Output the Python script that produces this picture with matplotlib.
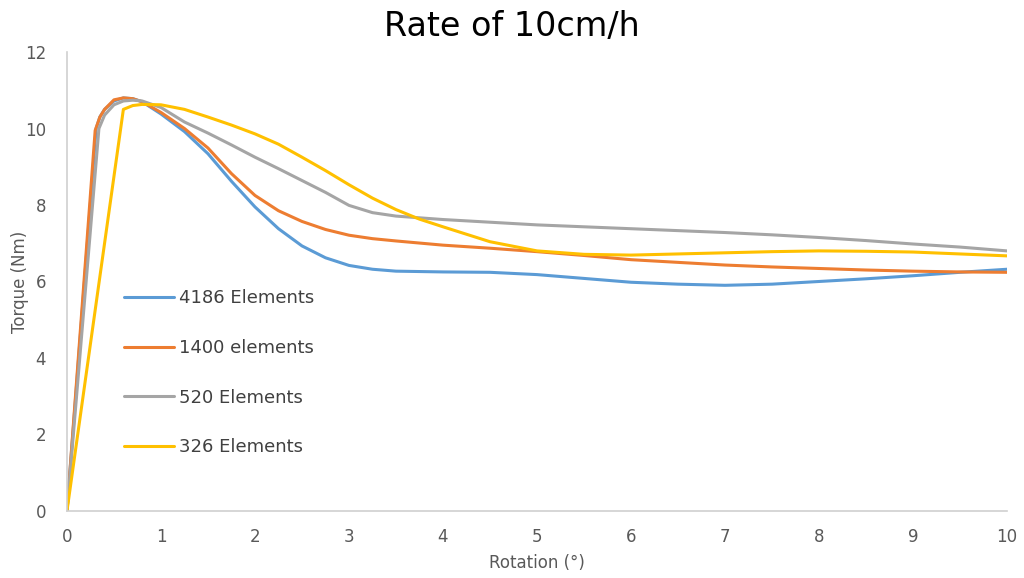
import matplotlib.pyplot as plt

plt.rcParams['font.family'] = ['DejaVu Sans']

# torque vs rotation for each mesh density
rot_4186 = [0, 0.31, 0.35, 0.4, 0.5, 0.6, 0.7, 0.8, 1.0, 1.25, 1.5, 1.75, 2.0, 2.25, 2.5, 2.75,
            3.0, 3.25, 3.5, 4, 4.5, 5, 5.5, 6, 6.5, 7, 7.5, 8, 8.5, 9, 9.5, 10]
torque_4186 = [0, 10.0, 10.3, 10.5, 10.72, 10.8, 10.78, 10.7, 10.38, 9.92, 9.34, 8.62, 7.95,
               7.38, 6.93, 6.62, 6.42, 6.32, 6.27, 6.25, 6.24, 6.18, 6.08, 5.98, 5.93, 5.9,
               5.93, 6.0, 6.07, 6.15, 6.24, 6.32]

rot_1400 = [0, 0.3, 0.35, 0.4, 0.5, 0.6, 0.7, 0.8, 1.0, 1.25, 1.5, 1.75, 2.0, 2.25, 2.5, 2.75,
            3.0, 3.25, 3.5, 4, 4.5, 5, 5.5, 6, 6.5, 7, 7.5, 8, 8.5, 9, 9.5, 10]
torque_1400 = [0, 9.95, 10.3, 10.5, 10.75, 10.8, 10.78, 10.7, 10.42, 10.0, 9.49, 8.82, 8.25,
               7.85, 7.57, 7.36, 7.21, 7.12, 7.06, 6.95, 6.87, 6.78, 6.68, 6.57, 6.5, 6.43,
               6.38, 6.34, 6.3, 6.27, 6.25, 6.24]

rot_520 = [0, 0.34, 0.4, 0.5, 0.6, 0.7, 0.8, 1.0, 1.25, 1.5, 1.75, 2.0, 2.25, 2.5, 2.75, 3.0,
           3.25, 3.5, 4, 4.5, 5, 5.5, 6, 6.5, 7, 7.5, 8, 8.5, 9, 9.5, 10]
torque_520 = [0, 10.0, 10.35, 10.62, 10.72, 10.74, 10.72, 10.55, 10.17, 9.88, 9.57, 9.25, 8.95,
              8.64, 8.33, 7.99, 7.8, 7.71, 7.62, 7.55, 7.48, 7.43, 7.38, 7.33, 7.28, 7.22,
              7.15, 7.07, 6.98, 6.9, 6.8]

rot_326 = [0, 0.6, 0.7, 0.8, 1.0, 1.25, 1.5, 1.75, 2.0, 2.25, 2.5, 2.75, 3.0, 3.25, 3.5, 3.75,
           4, 4.5, 5, 5.5, 6, 6.5, 7, 7.5, 8, 8.5, 9, 9.5, 10]
torque_326 = [0, 10.5, 10.6, 10.63, 10.62, 10.5, 10.3, 10.09, 9.86, 9.59, 9.25, 8.9, 8.53,
              8.18, 7.88, 7.63, 7.43, 7.04, 6.8, 6.71, 6.69, 6.72, 6.75, 6.78, 6.8, 6.79, 6.77,
              6.72, 6.67]

series = [
    (rot_4186, torque_4186, '4186 Elements', '#5B9BD5'),
    (rot_1400, torque_1400, '1400 elements', '#ED7D31'),
    (rot_520, torque_520, '520 Elements', '#A5A5A5'),
    (rot_326, torque_326, '326 Elements', '#FFC000'),
]

fig = plt.figure(figsize=(10.24, 5.78), dpi=100)
ax = fig.add_axes([0.0654, 0.116, 0.918, 0.794])

for x, y, label, color in series:
    ax.plot(x, y, color=color, linewidth=2.2, label=label,
            solid_capstyle='round', solid_joinstyle='round')

ax.set_xlim(0, 10)
ax.set_ylim(0, 12)
ax.set_xticks(range(0, 11))
ax.set_yticks(range(0, 13, 2))

for side in ('top', 'right'):
    ax.spines[side].set_visible(False)
for side in ('left', 'bottom'):
    ax.spines[side].set_color('#D0D0D0')
    ax.spines[side].set_linewidth(1.2)
ax.tick_params(length=0, labelsize=12, labelcolor='#595959')
ax.tick_params(axis='x', pad=12)
ax.tick_params(axis='y', pad=15)

ax.set_xlabel('Rotation (°)', fontsize=12, color='#595959', labelpad=6)
ax.set_ylabel('Torque (Nm)', fontsize=12, color='#595959', labelpad=-3)
fig.text(0.5, 0.955, 'Rate of 10cm/h', fontsize=24, ha='center', va='center', color='black')

ax.legend(loc='upper left', bbox_to_anchor=(0.043, 0.518), frameon=False,
          fontsize=13, labelcolor='#404040', handlelength=2.8, handletextpad=0.25,
          labelspacing=1.75)

fig.savefig('out.png', dpi=100)
